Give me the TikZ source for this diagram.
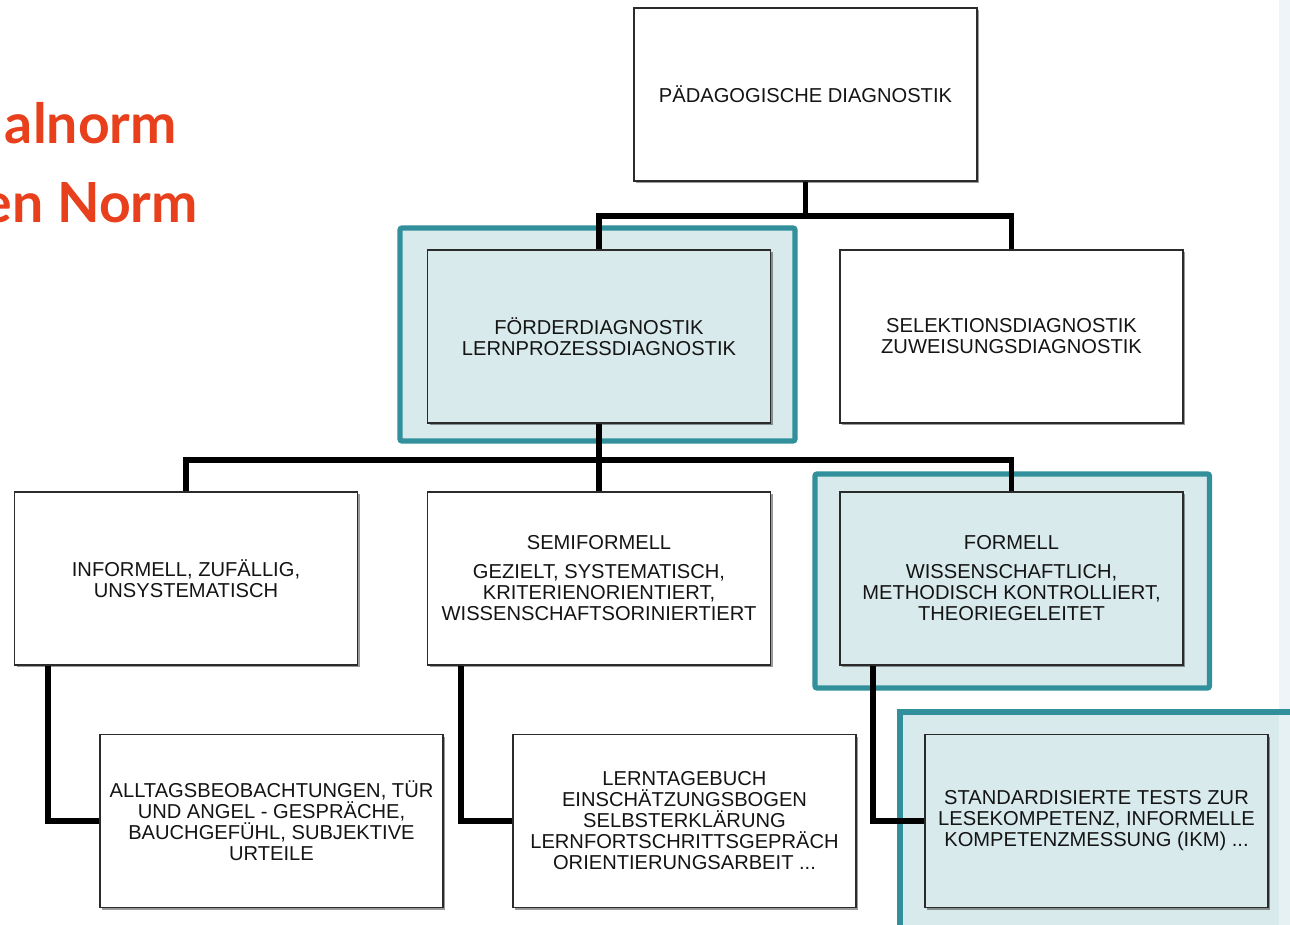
\documentclass[tikz,border=0pt]{standalone}
\usepackage{fontspec}
\setmainfont{Liberation Sans}
\newfontfamily\titlefont{Lato}
\usetikzlibrary{shadows}
\definecolor{hlteal}{HTML}{31909B}
\definecolor{hlfill}{HTML}{D9EAED}
\definecolor{boxline}{HTML}{2B2B2B}
\definecolor{txtcol}{HTML}{141414}
\definecolor{stripcol}{HTML}{EEF4F7}
\definecolor{redtxt}{HTML}{E8401C}
\tikzset{
  box/.style={draw=boxline, line width=1.2pt, fill=white, minimum width=257.25pt,
    minimum height=129.75pt, inner sep=0pt, align=center, text=txtcol,
    font=\fontsize{15.1}{15.75}\selectfont,
    drop shadow={shadow xshift=1.5pt, shadow yshift=-1.5pt, fill=black, opacity=0.22}},
  hbox/.style={box, fill=hlfill},
  hl/.style={draw=hlteal, line width=3.9pt, fill=hlfill, rounded corners=1.5pt},
  conn/.style={draw=black, line width=4.4pt, line join=miter},
  redlabel/.style={anchor=base east, inner sep=0pt, text=redtxt,
    font=\titlefont\bfseries\fontsize{41.5}{41.5}\selectfont}
}
\begin{document}
\begin{tikzpicture}[x=0.75pt,y=-0.75pt]
\useasboundingbox (0,0) rectangle (1290,925);
\clip (0,0) rectangle (1290,925);
\fill[white] (0,0) rectangle (1290,925);
\fill[stripcol] (1279,0) rectangle (1290,925);
% highlight frames
\path[hl] (400,228) rectangle (795,441);
\path[hl] (815,474) rectangle (1209.5,688);
\fill[hlfill] (900,712) rectangle (1300,940);
\fill[white, opacity=0.35] (1279,714) rectangle (1300,940);
\draw[draw=hlteal, line width=3.9pt] (1300,712) -- (900,712) -- (900,940);
% boxes
\node[box]  (top)  at (805.5,94.5) {PÄDAGOGISCHE DIAGNOSTIK};
\node[hbox] (foer) at (599,336.5) {FÖRDERDIAGNOSTIK\\LERNPROZESSDIAGNOSTIK};
\node[box]  (sel)  at (1011.5,336.5) {SELEKTIONSDIAGNOSTIK\\ZUWEISUNGSDIAGNOSTIK};
\node[box]  (inf)  at (186,578.5) {INFORMELL, ZUFÄLLIG,\\UNSYSTEMATISCH};
\node[box]  (semi) at (599,578.5) {SEMIFORMELL\\[6pt]GEZIELT, SYSTEMATISCH,\\KRITERIENORIENTIERT,\\WISSENSCHAFTSORINIERTIERT};
\node[hbox] (form) at (1011.5,578.5) {FORMELL\\[6pt]WISSENSCHAFTLICH,\\METHODISCH KONTROLLIERT,\\THEORIEGELEITET};
\node[box]  (allt) at (271.5,821) {ALLTAGSBEOBACHTUNGEN, TÜR\\UND ANGEL - GESPRÄCHE,\\BAUCHGEFÜHL, SUBJEKTIVE\\URTEILE};
\node[box]  (lern) at (684.5,821) {LERNTAGEBUCH\\EINSCHÄTZUNGSBOGEN\\SELBSTERKLÄRUNG\\LERNFORTSCHRITTSGEPRÄCH\\ORIENTIERUNGSARBEIT ...};
\node[hbox] (std)  at (1096.5,821) {STANDARDISIERTE TESTS ZUR\\LESEKOMPETENZ, INFORMELLE\\KOMPETENZMESSUNG (IKM) ...};
% connectors
\draw[conn] (top.south) -- ++(0,34) -| (foer.north);
\draw[conn] (top.south) -- ++(0,34) -| (sel.north);
\draw[conn] (foer.south) -- ++(0,36) -| (inf.north);
\draw[conn] (foer.south) -- (semi.north);
\draw[conn] (foer.south) -- ++(0,36) -| (form.north);
\draw[conn] ([xshift=25.5pt]inf.south west) |- (allt.west);
\draw[conn] ([xshift=25.5pt]semi.south west) |- (lern.west);
\draw[conn] ([xshift=25.5pt]form.south west) |- (std.west);
% redraw boxes on top of connectors
\node[box]  at (top)  {PÄDAGOGISCHE DIAGNOSTIK};
\node[hbox] at (foer) {FÖRDERDIAGNOSTIK\\LERNPROZESSDIAGNOSTIK};
\node[box]  at (sel)  {SELEKTIONSDIAGNOSTIK\\ZUWEISUNGSDIAGNOSTIK};
\node[box]  at (inf)  {INFORMELL, ZUFÄLLIG,\\UNSYSTEMATISCH};
\node[box]  at (semi) {SEMIFORMELL\\[6pt]GEZIELT, SYSTEMATISCH,\\KRITERIENORIENTIERT,\\WISSENSCHAFTSORINIERTIERT};
\node[hbox] at (form) {FORMELL\\[6pt]WISSENSCHAFTLICH,\\METHODISCH KONTROLLIERT,\\THEORIEGELEITET};
\node[box]  at (allt) {ALLTAGSBEOBACHTUNGEN, TÜR\\UND ANGEL - GESPRÄCHE,\\BAUCHGEFÜHL, SUBJEKTIVE\\URTEILE};
\node[box]  at (lern) {LERNTAGEBUCH\\EINSCHÄTZUNGSBOGEN\\SELBSTERKLÄRUNG\\LERNFORTSCHRITTSGEPRÄCH\\ORIENTIERUNGSARBEIT ...};
\node[hbox] at (std)  {STANDARDISIERTE TESTS ZUR\\LESEKOMPETENZ, INFORMELLE\\KOMPETENZMESSUNG (IKM) ...};
% red headings (cut off at the left edge, as in the reference)
\node[redlabel] (r1) at (177,143) {alnorm};
\node[redlabel] (r2) at (198,222) {en Norm};
\end{tikzpicture}
\end{document}
